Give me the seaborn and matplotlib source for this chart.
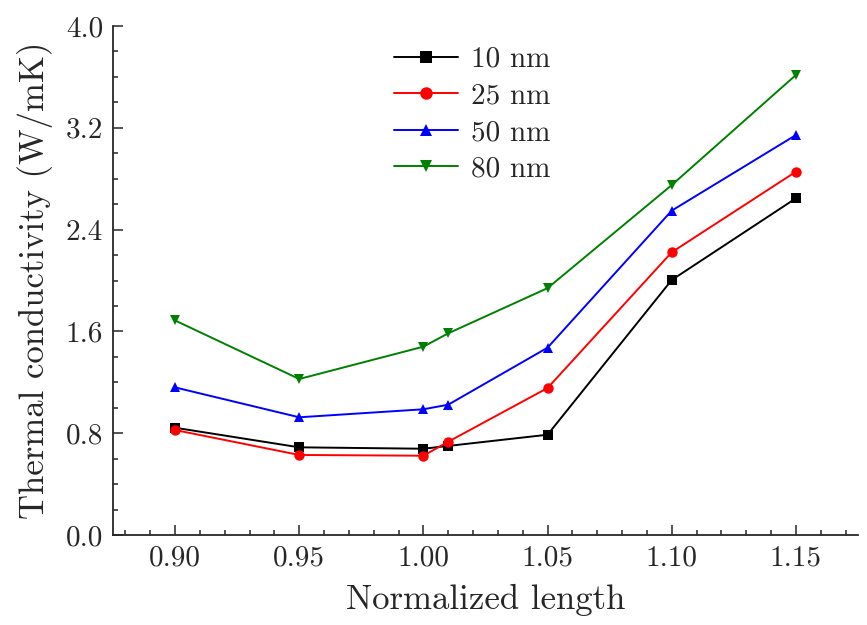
import pandas as pd
import matplotlib
matplotlib.use("Agg")
import matplotlib.pyplot as plt
from matplotlib.ticker import MultipleLocator, FormatStrFormatter
import seaborn as sns

# -----------------------------
# Data
# -----------------------------
lengths = [0.90, 0.95, 1.00, 1.01, 1.05, 1.10, 1.15]
k_10nm = [0.843, 0.689, 0.678, 0.700, 0.788, 2.004, 2.646]
k_25nm = [0.825, 0.629, 0.623, 0.733, 1.155, 2.222, 2.855]
k_50nm = [1.160, 0.925, 0.988, 1.024, 1.472, 2.549, 3.143]
k_80nm = [1.686, 1.226, 1.480, 1.585, 1.940, 2.750, 3.615]
labels = ["10 nm", "25 nm", "50 nm", "80 nm"]

frames = []
for lab, vals in zip(labels, [k_10nm, k_25nm, k_50nm, k_80nm]):
    frames.append(pd.DataFrame({"length": lengths, "k": vals, "size": lab}))
df = pd.concat(frames, ignore_index=True)

# -----------------------------
# Style
# -----------------------------
sns.set_style("ticks")
plt.rcParams["font.family"] = ["cmr10", "DejaVu Serif"]
plt.rcParams["axes.formatter.use_mathtext"] = True
plt.rcParams["mathtext.fontset"] = "cm"
plt.rcParams["xtick.direction"] = "in"
plt.rcParams["ytick.direction"] = "in"

palette = {"10 nm": "black", "25 nm": "red", "50 nm": "blue", "80 nm": "green"}
markers = {"10 nm": "s", "25 nm": "o", "50 nm": "^", "80 nm": "v"}

fig = plt.figure(figsize=(8.67, 6.25), dpi=100)
ax = fig.add_axes([0.1303, 0.144, 0.8593, 0.8144])

sns.lineplot(
    data=df,
    x="length",
    y="k",
    hue="size",
    style="size",
    palette=palette,
    markers=markers,
    dashes=False,
    markersize=7.5,
    markeredgewidth=0,
    linewidth=1.4,
    ax=ax,
)

ax.set_xlim(0.875, 1.175)
ax.set_ylim(0.0, 4.0)
ax.xaxis.set_major_locator(MultipleLocator(0.05))
ax.xaxis.set_minor_locator(MultipleLocator(0.01))
ax.yaxis.set_major_locator(MultipleLocator(0.8))
ax.yaxis.set_minor_locator(MultipleLocator(0.2))
ax.xaxis.set_major_formatter(FormatStrFormatter("%.2f"))
ax.yaxis.set_major_formatter(FormatStrFormatter("%.1f"))
ax.tick_params(which="both", direction="in", top=False, right=False)
ax.tick_params(which="major", length=7.5, width=1.1, labelsize=21, pad=7)
ax.tick_params(which="minor", length=3.8, width=1.1)

sns.despine(ax=ax)
for sp in ["left", "bottom"]:
    ax.spines[sp].set_linewidth(1.3)

ax.set_xlabel("Normalized length", fontsize=25, labelpad=9)
ax.set_ylabel("Thermal conductivity (W/mK)", fontsize=25, labelpad=9)

leg = ax.legend(
    loc="upper left",
    bbox_to_anchor=(0.377, 0.960),
    borderaxespad=0,
    borderpad=0,
    frameon=False,
    fontsize=21,
    handlelength=2.2,
    handletextpad=0.45,
    labelspacing=0.35,
    markerscale=1.2,
)
for line in leg.get_lines():
    line.set_linewidth(1.4)

fig.savefig("out.png", dpi=100)
